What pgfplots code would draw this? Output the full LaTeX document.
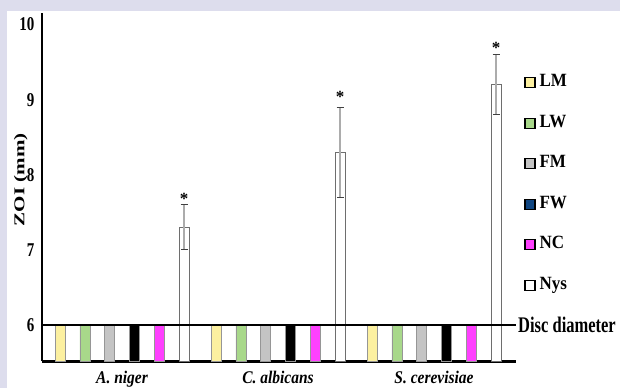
\documentclass[border=0pt]{standalone}
\usepackage{fontspec}
\setmainfont{Liberation Serif}
\usepackage{graphicx}
\usepackage{pgfplots}
\pgfplotsset{compat=1.18}
\definecolor{bgl}{RGB}{221,221,237}
\definecolor{cLM}{RGB}{252,240,160}
\definecolor{cLW}{RGB}{168,216,138}
\definecolor{cFM}{RGB}{196,196,196}
\definecolor{cFW}{RGB}{0,0,0}
\definecolor{cFWleg}{RGB}{16,70,130}
\definecolor{cNC}{RGB}{255,64,255}
\definecolor{barline}{RGB}{150,150,150}
\definecolor{nysline}{RGB}{110,110,110}
\begin{document}
\begin{tikzpicture}
\fill[bgl] (0,0) rectangle (620pt,388pt);
\fill[white] (7pt,0) rectangle (620pt,377pt);
\begin{axis}[
  at={(42pt,27pt)}, anchor=south west,
  scale only axis, width=474pt, height=348pt,
  xmin=42, xmax=516, ymin=5.52, ymax=10.16,
  axis lines=left, axis line style={-},
  x axis line style={line width=3pt},
  y axis line style={line width=2.2pt},
  clip mode=individual,
  major tick length=0pt,
  ytick={6,7,8,9,10},
  yticklabels={\scalebox{1}[1.3]{6},\scalebox{1}[1.3]{7},\scalebox{1}[1.3]{8},\scalebox{1}[1.3]{9},\scalebox{1}[1.3]{10}},
  yticklabel style={font=\bfseries\fontsize{15}{15}\selectfont, xshift=-4pt},
  xtick={122,278,434},
  xticklabels={\scalebox{1}[1.15]{A. niger},\scalebox{1}[1.15]{C. albicans},\scalebox{1}[1.15]{S. cerevisiae}},
  xticklabel style={font=\bfseries\itshape\fontsize{15.5}{15.5}\selectfont, yshift=-7pt},
  ylabel={\scalebox{1.4}[1]{ZOI (mm)}},
  ylabel style={font=\bfseries\fontsize{15}{15}\selectfont, at={(axis description cs:-0.045,0.52)}, anchor=center},
  legend image code/.code={\draw[#1, draw=black, line width=1.3pt] (0pt,-5pt) rectangle (10pt,5pt);},
  legend style={at={(rel axis cs:1.017,0.822)}, anchor=north west, draw=none, fill=none,
    inner sep=0pt, row sep=24.5pt, column sep=3pt,
    font=\bfseries\fontsize{17}{17}\selectfont,
    nodes={inner sep=1pt, text height=11pt, text depth=3pt}},
  legend cell align=left,
]
\addplot[ybar, bar width=10pt, bar shift=0pt, fill=cLM, draw=barline, line width=0.6pt, forget plot]
  coordinates {(60,6) (216,6) (372,6)};
\addplot[ybar, bar width=10pt, bar shift=0pt, fill=cLW, draw=barline, line width=0.6pt, forget plot]
  coordinates {(84.8,6) (240.8,6) (396.8,6)};
\addplot[ybar, bar width=10pt, bar shift=0pt, fill=cFM, draw=barline, line width=0.6pt, forget plot]
  coordinates {(109.6,6) (265.6,6) (421.6,6)};
\addplot[ybar, bar width=10pt, bar shift=0pt, fill=cFW, draw=barline, line width=0.6pt, forget plot]
  coordinates {(134.4,6) (290.4,6) (446.4,6)};
\addplot[ybar, bar width=10pt, bar shift=0pt, fill=cNC, draw=barline, line width=0.6pt, forget plot]
  coordinates {(159.2,6) (315.2,6) (471.2,6)};
\addplot[ybar, bar width=10pt, bar shift=0pt, fill=white, draw=nysline, line width=0.9pt, forget plot,
  error bars/.cd, y dir=both, y explicit,
  error bar style={color=gray!65, line width=1.3pt},
  error mark options={rotate=90, mark size=3.5pt, color=darkgray, line width=0.9pt}]
  coordinates {(184,7.3) +- (0,0.3) (340,8.3) +- (0,0.6) (496,9.2) +- (0,0.4)};
\addplot[black, line width=1.5pt, forget plot] coordinates {(42,6) (516,6)};
\node[font=\bfseries\fontsize{17}{17}\selectfont, yshift=-3pt] at (axis cs:184,7.72) {*};
\node[font=\bfseries\fontsize{17}{17}\selectfont, yshift=-3pt] at (axis cs:340,9.07) {*};
\node[font=\bfseries\fontsize{17}{17}\selectfont, yshift=-3pt] at (axis cs:496,9.73) {*};
\node[anchor=west, inner sep=2pt, font=\bfseries\fontsize{16.5}{16.5}\selectfont] at (axis cs:516,6) {\scalebox{1}[1.35]{Disc diameter}};
\addlegendimage{fill=cLM}\addlegendentry{\scalebox{1}[1.1]{LM}}
\addlegendimage{fill=cLW}\addlegendentry{\scalebox{1}[1.1]{LW}}
\addlegendimage{fill=cFM}\addlegendentry{\scalebox{1}[1.1]{FM}}
\addlegendimage{fill=cFWleg}\addlegendentry{\scalebox{1}[1.1]{FW}}
\addlegendimage{fill=cNC}\addlegendentry{\scalebox{1}[1.1]{NC}}
\addlegendimage{fill=white}\addlegendentry{\scalebox{1}[1.1]{Nys}}
\end{axis}
\pgfresetboundingbox
\path[use as bounding box] (0,0) rectangle (620pt,388pt);
\end{tikzpicture}
\end{document}
